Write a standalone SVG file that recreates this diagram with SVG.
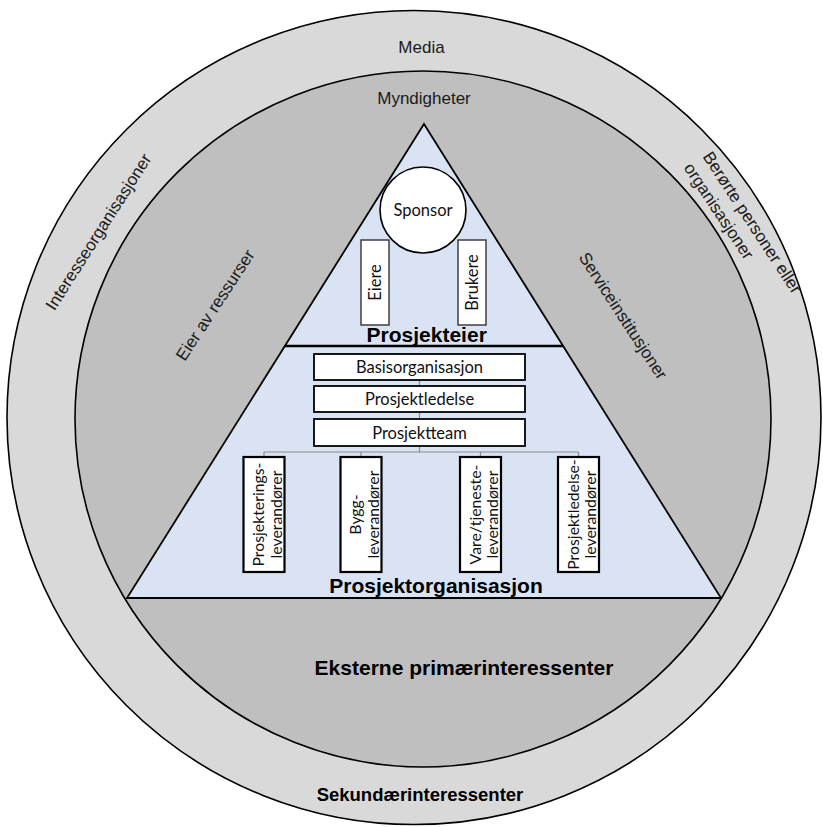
<svg xmlns="http://www.w3.org/2000/svg" width="823" height="827" viewBox="0 0 823 827">
  <style>
    .ring { font-family: "Liberation Sans", Arial, sans-serif; font-size: 17px; fill: #1a1a1a; }
    .head { font-family: "Liberation Sans", Arial, sans-serif; font-weight: bold; fill: #000; }
    .box  { font-family: Lato, "Liberation Sans", sans-serif; font-size: 16.5px; fill: #111; }
    .vtxt { font-size: 15.8px; }
    .wbox { fill: #fff; stroke: #000; stroke-width: 1.8; }
    .vbox { fill: #fff; stroke: #000; stroke-width: 2.2; }
    .sbox { fill: #fff; stroke: #333; stroke-width: 1.4; }
    .conn { fill: none; stroke: #8a8a8a; stroke-width: 1.2; }
  </style>

  <!-- stakeholder rings -->
  <g id="secondary-ring">
    <circle cx="414" cy="417.5" r="407" fill="#d9d9d9" stroke="#000" stroke-width="1.6"/>
    <text class="ring" x="421.5" y="52.5" text-anchor="middle">Media</text>
    <text class="ring" x="98.3" y="237.7" text-anchor="middle" transform="rotate(-57.5 98.3 231.7)">Interesseorganisasjoner</text>
    <text class="ring" x="752.5" y="228.5" text-anchor="middle" transform="rotate(56.8 752.5 222.5)">Berørte personer eller</text>
    <text class="ring" x="719" y="217" text-anchor="middle" transform="rotate(56.5 719 211)">organisasjoner</text>
    <text class="head" x="420" y="801" text-anchor="middle" font-size="18.5">Sekundærinteressenter</text>
  </g>

  <g id="primary-ring">
    <circle cx="423" cy="419" r="348" fill="#bfbfbf" stroke="#000" stroke-width="1.6"/>
    <text class="ring" x="424" y="104" text-anchor="middle">Myndigheter</text>
    <text class="ring" x="215" y="311" text-anchor="middle" transform="rotate(-56.7 215 305)">Eier av ressurser</text>
    <text class="ring" x="623.3" y="321.8" text-anchor="middle" transform="rotate(57 623.3 315.8)">Serviceinstitusjoner</text>
    <text class="head" x="464" y="675" text-anchor="middle" font-size="21">Eksterne primærinteressenter</text>
  </g>

  <!-- project pyramid -->
  <g id="pyramid">
    <polygon points="424,124 721,598 127,598" fill="#dae3f3" stroke="#000" stroke-width="1.8" stroke-linejoin="miter"/>
    <line x1="285" y1="346" x2="563" y2="346" stroke="#000" stroke-width="2.6"/>
  </g>

  <g id="project-owner">
    <text class="head" x="426.7" y="342" text-anchor="middle" font-size="21">Prosjekteier</text>
  </g>

  <g id="sponsor">
    <circle cx="423" cy="210" r="43" fill="#fff" stroke="#000" stroke-width="1.6"/>
    <text class="box" x="423" y="215.5" text-anchor="middle">Sponsor</text>
  </g>

  <g id="eiere">
    <rect class="sbox" x="361" y="240" width="28" height="85"/>
    <text class="box" x="375" y="288" text-anchor="middle" transform="rotate(-90 375 282.5)">Eiere</text>
  </g>

  <g id="brukere">
    <rect class="sbox" x="458" y="240" width="28" height="85"/>
    <text class="box" x="472" y="288" text-anchor="middle" transform="rotate(-90 472 282.5)">Brukere</text>
  </g>

  <!-- connectors -->
  <g id="connectors">
    <line class="conn" x1="419.5" y1="380" x2="419.5" y2="386"/>
    <line class="conn" x1="419.5" y1="412" x2="419.5" y2="419"/>
    <path class="conn" d="M419.5,446 V452 M264,452 H578.5 M264,452 V457 M361,452 V457 M480.5,452 V457 M578.5,452 V457"/>
  </g>

  <g id="basisorganisasjon">
    <rect class="wbox" x="314" y="354" width="211" height="26"/>
    <text class="box" x="419.5" y="373" text-anchor="middle">Basisorganisasjon</text>
  </g>

  <g id="prosjektledelse">
    <rect class="wbox" x="314" y="386" width="211" height="26"/>
    <text class="box" x="419.5" y="405" text-anchor="middle">Prosjektledelse</text>
  </g>

  <g id="prosjektteam">
    <rect class="wbox" x="314" y="419" width="211" height="27"/>
    <text class="box" x="419.5" y="438.5" text-anchor="middle">Prosjektteam</text>
  </g>

  <!-- supplier boxes: text reads bottom to top -->
  <g id="prosjekteringsleverandorer">
    <rect class="vbox" x="243.5" y="457" width="41" height="115"/>
    <g transform="rotate(-90 264 514.5)" text-anchor="middle">
      <text class="box vtxt" x="264" y="514.5">Prosjekterings-</text>
      <text class="box vtxt" x="264" y="532">leverandører</text>
    </g>
  </g>

  <g id="byggleverandorer">
    <rect class="vbox" x="340.5" y="457" width="41" height="115"/>
    <g transform="rotate(-90 361 514.5)" text-anchor="middle">
      <text class="box vtxt" x="361" y="514.5">Bygg-</text>
      <text class="box vtxt" x="361" y="532">leverandører</text>
    </g>
  </g>

  <g id="vare-tjenesteleverandorer">
    <rect class="vbox" x="460" y="457" width="41" height="115"/>
    <g transform="rotate(-90 480.5 514.5)" text-anchor="middle">
      <text class="box vtxt" x="480.5" y="514.5">Vare/tjeneste-</text>
      <text class="box vtxt" x="480.5" y="532">leverandører</text>
    </g>
  </g>

  <g id="prosjektledelseleverandorer">
    <rect class="vbox" x="558" y="457" width="41" height="115"/>
    <g transform="rotate(-90 578.5 514.5)" text-anchor="middle">
      <text class="box vtxt" x="578.5" y="514.5">Prosjektledelse-</text>
      <text class="box vtxt" x="578.5" y="532">leverandører</text>
    </g>
  </g>

  <g id="project-organisation">
    <text class="head" x="436" y="593" text-anchor="middle" font-size="21">Prosjektorganisasjon</text>
  </g>
</svg>
